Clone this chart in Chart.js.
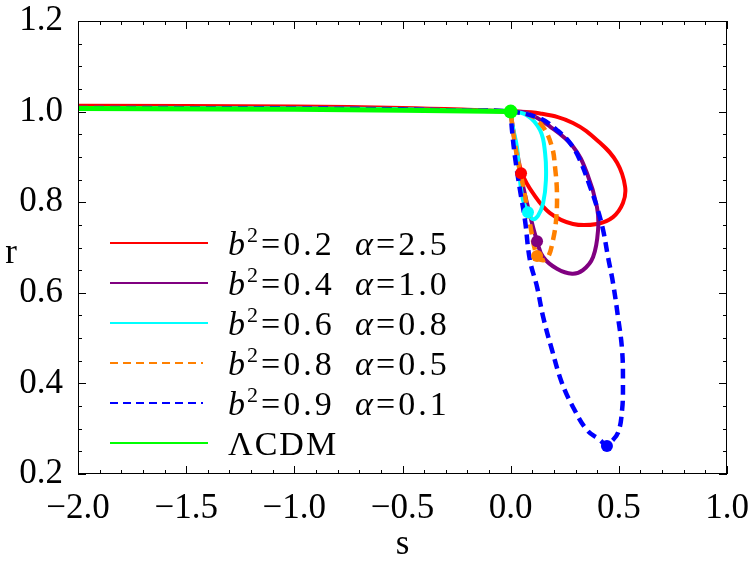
<!DOCTYPE html>
<html>
<head>
<meta charset="utf-8">
<script src="https://cdn.jsdelivr.net/npm/chart.js@4"></script>
<style>
  body { margin: 0; background: #fff; }
  #wrap { width: 750px; height: 578px; position: relative; }
</style>
</head>
<body>
<div id="wrap"><canvas id="rsChart"></canvas></div>
<script>
const xTickValues = [-2.0, -1.5, -1.0, -0.5, 0.0, 0.5, 1.0];
const yTickValues = [0.2, 0.4, 0.6, 0.8, 1.0, 1.2];

const b2Values = ['0.2', '0.4', '0.6', '0.8', '0.9'];
const alphaValues = ['2.5', '1.0', '0.8', '0.5', '0.1'];
const seriesColors = ['#ff0000', '#800080', '#00ffff', '#ff8000', '#0000ff', '#00ff00'];

const sRed = [-2.0, -1.0, -0.5, -0.2, 0.0, 0.136, 0.288, 0.413, 0.492, 0.529, 0.519, 0.473, 0.399, 0.288, 0.182, 0.103, 0.052, 0.030, 0.012, 0.0];
const rRed = [1.013, 1.011, 1.008, 1.004, 1.0, 0.996, 0.975, 0.931, 0.887, 0.834, 0.798, 0.767, 0.752, 0.752, 0.776, 0.820, 0.864, 0.910, 0.960, 1.0];

const sPurple = [-2.0, -1.0, -0.5, -0.2, 0.0, 0.075, 0.182, 0.288, 0.353, 0.399, 0.404, 0.381, 0.334, 0.284, 0.214, 0.150, 0.122, 0.090, 0.060, 0.030, 0.010, 0.0];
const rPurple = [1.008, 1.007, 1.005, 1.002, 1.0, 0.997, 0.967, 0.923, 0.864, 0.789, 0.739, 0.679, 0.650, 0.642, 0.653, 0.679, 0.714, 0.770, 0.830, 0.900, 0.960, 1.0];

const sCyan = [-2.0, -1.0, -0.5, -0.2, 0.0, 0.075, 0.136, 0.159, 0.163, 0.150, 0.126, 0.100, 0.080, 0.057, 0.043, 0.029, 0.008, 0.0];
const rCyan = [1.008, 1.007, 1.005, 1.002, 1.0, 0.992, 0.959, 0.909, 0.849, 0.798, 0.770, 0.763, 0.778, 0.805, 0.849, 0.922, 0.970, 1.0];

const sOrange = [-2.0, -1.0, -0.5, -0.2, 0.0, 0.089, 0.150, 0.191, 0.205, 0.214, 0.210, 0.196, 0.173, 0.150, 0.122, 0.090, 0.060, 0.030, 0.010, 0.0];
const rOrange = [1.008, 1.007, 1.005, 1.002, 1.0, 0.992, 0.966, 0.922, 0.878, 0.820, 0.761, 0.717, 0.679, 0.672, 0.681, 0.750, 0.830, 0.900, 0.960, 1.0];

const sBlue = [-2.0, -1.0, -0.5, -0.2, 0.0, 0.136, 0.214, 0.274, 0.320, 0.367, 0.399, 0.427, 0.450, 0.473, 0.496, 0.515, 0.519, 0.515, 0.496, 0.459, 0.445, 0.413, 0.353, 0.288, 0.237, 0.191, 0.150, 0.122, 0.089, 0.066, 0.043, 0.020, 0.006, 0.0];
const rBlue = [1.008, 1.007, 1.005, 1.002, 1.0, 0.985, 0.959, 0.931, 0.893, 0.834, 0.789, 0.739, 0.679, 0.622, 0.547, 0.474, 0.401, 0.341, 0.291, 0.268, 0.262, 0.275, 0.297, 0.348, 0.401, 0.474, 0.547, 0.613, 0.672, 0.761, 0.827, 0.900, 0.960, 1.0];

const sLcdm = [-2.0, -1.0, -0.5, 0.0];
const rLcdm = [1.007, 1.005, 1.003, 1.0];

// present-day points: red, purple, cyan, orange, blue, LCDM
const sNow = [0.048, 0.122, 0.080, 0.122, 0.445, 0.0];
const rNow = [0.864, 0.714, 0.778, 0.681, 0.262, 1.0];

const FONT = '"Liberation Serif", "Times New Roman", serif';

function toPoints(s, r) {
  return s.map((v, i) => ({ x: v, y: r[i] }));
}

function curve(s, r, color, dashed, order) {
  return {
    data: toPoints(s, r),
    showLine: true,
    borderColor: color,
    borderWidth: dashed ? 4.5 : 4,
    borderDash: dashed ? [10, 6] : [],
    pointRadius: 0,
    tension: 0.4,
    fill: false,
    order
  };
}

// frame with inward ticks on all four sides, plus the upright "r" title
const framePlugin = {
  id: 'frame',
  afterDatasetsDraw(chart) {
    const { ctx, chartArea: a, scales: { x, y } } = chart;
    ctx.save();
    ctx.strokeStyle = '#000';
    ctx.lineWidth = 1;
    ctx.strokeRect(a.left + 0.5, a.top + 0.5, a.right - a.left - 1, a.bottom - a.top - 1);
    ctx.beginPath();
    for (let i = 0; i <= 30; i++) {
      const px = Math.round(x.getPixelForValue(-2 + i * 0.1)) + 0.5;
      const len = i % 5 === 0 ? 8 : 4;
      ctx.moveTo(px, a.bottom); ctx.lineTo(px, a.bottom - len);
      ctx.moveTo(px, a.top); ctx.lineTo(px, a.top + len);
    }
    for (let i = 0; i <= 20; i++) {
      const py = Math.round(y.getPixelForValue(0.2 + i * 0.05)) + 0.5;
      const len = i % 4 === 0 ? 8 : 4;
      ctx.moveTo(a.left, py); ctx.lineTo(a.left + len, py);
      ctx.moveTo(a.right, py); ctx.lineTo(a.right - len, py);
    }
    ctx.stroke();

    ctx.fillStyle = '#000';
    ctx.font = '35px ' + FONT;
    ctx.textAlign = 'center';
    ctx.textBaseline = 'alphabetic';
    ctx.fillText('r', 11, 263);
    ctx.restore();
  }
};

// legend drawn inside the plot, lower left
const legendPlugin = {
  id: 'rsLegend',
  afterDraw(chart) {
    const ctx = chart.ctx;
    ctx.save();
    ctx.fillStyle = '#000';
    ctx.textBaseline = 'alphabetic';
    ctx.textAlign = 'left';
    const rows = b2Values.length + 1;
    for (let i = 0; i < rows; i++) {
      const yLine = 243 + i * 40;
      const dashed = i === 3 || i === 4;
      ctx.strokeStyle = seriesColors[i];
      ctx.lineWidth = 2;
      ctx.setLineDash(dashed ? [8, 5] : []);
      ctx.beginPath();
      ctx.moveTo(110, yLine);
      ctx.lineTo(dashed ? 203 : 208, yLine);
      ctx.stroke();
      ctx.setLineDash([]);

      const base = yLine + 12;
      if (i < b2Values.length) {
        ctx.letterSpacing = '0px';
        ctx.font = 'italic 34px ' + FONT;
        ctx.fillText('b', 228, base);
        ctx.font = '22px ' + FONT;
        ctx.fillText('2', 247, base - 13);
        ctx.letterSpacing = '3px';
        ctx.font = '34px ' + FONT;
        ctx.fillText('=' + b2Values[i], 261, base);
        ctx.letterSpacing = '0px';
        ctx.font = 'italic 34px ' + FONT;
        ctx.fillText('\u03b1', 355, base);
        ctx.letterSpacing = '3px';
        ctx.font = '34px ' + FONT;
        ctx.fillText('=' + alphaValues[i], 376, base);
      } else {
        ctx.letterSpacing = '2px';
        ctx.font = '34px ' + FONT;
        ctx.fillText('\u039bCDM', 228, base);
      }
    }
    ctx.restore();
  }
};

const fmt = v => v.toFixed(1).replace('-', '\u2212');

new Chart(document.getElementById('rsChart'), {
  type: 'scatter',
  data: {
    datasets: [
      curve(sRed, rRed, seriesColors[0], false, 5),
      curve(sPurple, rPurple, seriesColors[1], false, 4),
      curve(sCyan, rCyan, seriesColors[2], false, 3),
      curve(sOrange, rOrange, seriesColors[3], true, 2),
      curve(sBlue, rBlue, seriesColors[4], true, 1),
      Object.assign(curve(sLcdm, rLcdm, seriesColors[5], false, 0), { borderWidth: 5, tension: 0 }),
      {
        data: toPoints(sNow, rNow),
        showLine: false,
        pointRadius: [6, 6, 6, 6, 6, 7],
        pointBackgroundColor: seriesColors,
        pointBorderWidth: 0,
        order: -1
      }
    ]
  },
  options: {
    responsive: true,
    maintainAspectRatio: false,
    animation: false,
    layout: { padding: { top: 21, right: 23, left: 0, bottom: 0 } },
    plugins: { legend: { display: false }, tooltip: { enabled: false } },
    scales: {
      x: {
        type: 'linear',
        min: -2, max: 1,
        grid: { display: false },
        border: { display: false },
        afterBuildTicks: s => { s.ticks = xTickValues.map(v => ({ value: v })); },
        afterFit: s => { s.height = 104; s.paddingLeft = 0; s.paddingRight = 0; },
        ticks: { color: '#000', font: { family: FONT, size: 35 }, padding: 6, maxRotation: 0, callback: v => fmt(v) },
        title: { display: true, text: 's', color: '#000', font: { family: FONT, size: 35 }, padding: { top: 0, bottom: 12 } }
      },
      y: {
        type: 'linear',
        min: 0.2, max: 1.2,
        grid: { display: false },
        border: { display: false },
        afterBuildTicks: s => { s.ticks = yTickValues.map(v => ({ value: v })); },
        afterFit: s => { s.width = 78; s.paddingTop = 0; s.paddingBottom = 0; },
        ticks: { color: '#000', font: { family: FONT, size: 35 }, padding: 7, callback: v => fmt(v) }
      }
    }
  },
  plugins: [framePlugin, legendPlugin]
});
</script>
</body>
</html>
